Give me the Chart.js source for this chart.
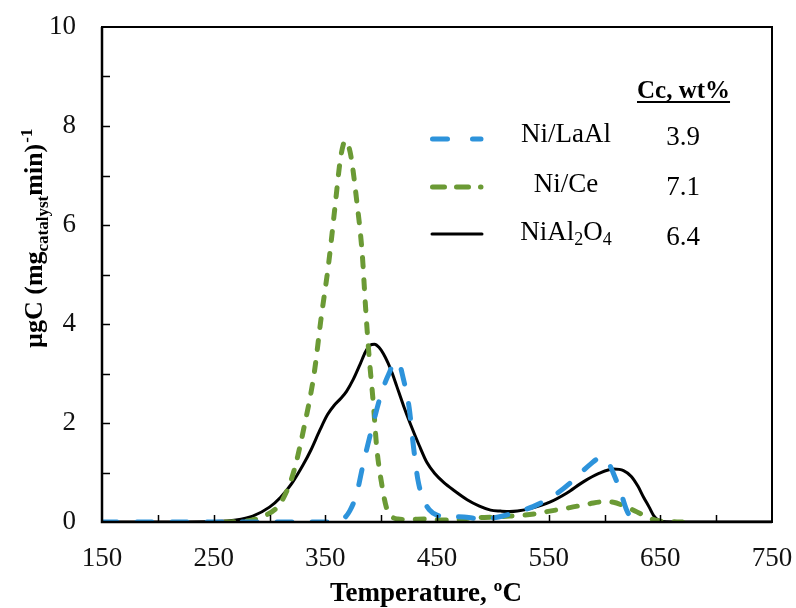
<!DOCTYPE html>
<html>
<head>
<meta charset="utf-8">
<script src="https://cdn.jsdelivr.net/npm/chart.js@4/dist/chart.umd.min.js"></script>
<style>
html,body{margin:0;padding:0;background:#fff;}
canvas{display:block;}
</style>
</head>
<body>
<canvas id="c" width="796" height="608"></canvas>
<script>
// ---- Data ----
const xTicks = [150, 250, 350, 450, 550, 650, 750];
const yTicks = [0, 2, 4, 6, 8, 10];

const seriesNames = ['Ni/LaAl', 'Ni/Ce', 'NiAl2O4'];
const carbonContent = ['3.9', '7.1', '6.4'];
const carbonHeader = 'Cc, wt%';

const tempLaAl = [150, 250, 350, 365, 372, 378, 384, 392, 401, 407, 411, 415, 420, 425, 429, 433, 438, 443, 450, 460, 474, 485, 492, 505, 521, 536, 557, 570, 581, 588, 594, 599, 604, 608, 614, 620, 625, 630];
const valLaAl  = [0, 0, 0, 0.05, 0.23, 0.57, 1.18, 1.92, 2.66, 3.0, 3.2, 3.24, 2.88, 2.32, 1.51, 0.84, 0.45, 0.25, 0.14, 0.11, 0.10, 0.07, 0.06, 0.10, 0.20, 0.31, 0.57, 0.80, 1.04, 1.18, 1.28, 1.30, 1.18, 0.98, 0.64, 0.23, 0.06, 0];

const tempCe = [260, 275, 283, 295, 307, 315, 322, 331, 340, 346, 353, 359, 363, 366, 368, 370, 373, 378, 383, 386, 389, 393, 396, 401, 405, 410, 415, 425, 440, 455, 465, 480, 500, 515, 533, 551, 569, 587, 600, 608, 617, 625, 632, 640, 647, 655, 670];
const valCe  = [0, 0.01, 0.03, 0.12, 0.30, 0.60, 1.04, 1.92, 3.0, 4.08, 5.23, 6.44, 7.25, 7.62, 7.70, 7.65, 7.38, 6.51, 5.43, 4.35, 3.40, 2.39, 1.51, 0.70, 0.27, 0.10, 0.06, 0.05, 0.06, 0.04, 0.04, 0.08, 0.10, 0.12, 0.15, 0.22, 0.29, 0.37, 0.41, 0.40, 0.33, 0.25, 0.17, 0.08, 0.03, 0.01, 0];

const tempNiAl = [150, 200, 250, 270, 285, 300, 310, 320, 330, 337, 345, 352, 358, 364, 369, 375, 381, 386, 390, 394, 398, 402, 406, 410, 414, 420, 426, 434, 441, 448, 456, 465, 477, 488, 498, 507, 515, 522, 535, 551, 566, 581, 595, 608, 617, 624, 630, 635, 640, 644, 648, 652, 670, 750];
const valNiAl  = [0, 0, 0.01, 0.04, 0.12, 0.30, 0.50, 0.78, 1.15, 1.45, 1.85, 2.17, 2.36, 2.50, 2.64, 2.88, 3.18, 3.44, 3.57, 3.59, 3.53, 3.40, 3.22, 3.0, 2.74, 2.35, 1.99, 1.55, 1.20, 0.98, 0.80, 0.64, 0.45, 0.32, 0.24, 0.22, 0.21, 0.22, 0.28, 0.40, 0.58, 0.81, 0.98, 1.07, 1.04, 0.92, 0.72, 0.50, 0.30, 0.13, 0.04, 0.01, 0, 0];

// ---- Styles ----
const BLUE = '#2D93DB';
const GREEN = '#6B9A35';
const SERIF = '"Liberation Serif", "DejaVu Serif", serif';

function pts(xs, ys) { return xs.map((x, i) => ({x: x, y: ys[i]})); }

const datasets = [
  {label: seriesNames[0], data: pts(tempLaAl, valLaAl), borderColor: BLUE, borderWidth: 5,
   borderDash: [15, 20], borderCapStyle: 'round', borderJoinStyle: 'round'},
  {label: seriesNames[1], data: pts(tempCe, valCe), borderColor: GREEN, borderWidth: 5,
   borderDash: [9, 13], borderCapStyle: 'round', borderJoinStyle: 'round'},
  {label: seriesNames[2], data: pts(tempNiAl, valNiAl), borderColor: '#000', borderWidth: 3,
   borderCapStyle: 'round', borderJoinStyle: 'round'}
].map(d => Object.assign(d, {pointRadius: 0, fill: false, tension: 0.4, cubicInterpolationMode: 'monotone', showLine: true}));

const decor = {
  id: 'decor',
  afterDraw(chart) {
    const ctx = chart.ctx, a = chart.chartArea;
    const xs = chart.scales.x, ys = chart.scales.y;
    ctx.save();
    // frame
    ctx.strokeStyle = '#000';
    ctx.lineWidth = 2;
    ctx.strokeRect(a.left, a.top, a.right - a.left, a.bottom - a.top);
    ctx.lineWidth = 2.5;
    ctx.beginPath();
    ctx.moveTo(a.left, a.top); ctx.lineTo(a.left, a.bottom); ctx.lineTo(a.right, a.bottom);
    ctx.stroke();
    // inward minor ticks
    ctx.lineWidth = 1.5;
    ctx.beginPath();
    for (let v = xTicks[0] + 50; v < xTicks[xTicks.length - 1]; v += 50) {
      const px = Math.round(xs.getPixelForValue(v)) + 0.5;
      ctx.moveTo(px, a.bottom); ctx.lineTo(px, a.bottom - 7);
    }
    for (let v = 1; v < 10; v += 1) {
      const py = Math.round(ys.getPixelForValue(v)) + 0.5;
      ctx.moveTo(a.left, py); ctx.lineTo(a.left + 8, py);
    }
    ctx.stroke();

    ctx.fillStyle = '#000';
    ctx.textBaseline = 'alphabetic';
    // x-axis title
    ctx.font = 'bold 27px ' + SERIF;
    ctx.textAlign = 'center';
    ctx.fillText('Temperature, ºC', 426, 601);

    // y-axis title with subscript/superscript
    ctx.save();
    ctx.translate(42, 348);
    ctx.rotate(-Math.PI / 2);
    ctx.textAlign = 'left';
    let x = 0;
    ctx.font = 'bold 26px ' + SERIF;
    ctx.fillText('µgC (mg', x, 0); x += ctx.measureText('µgC (mg').width;
    ctx.font = 'bold 17px ' + SERIF;
    ctx.fillText('catalyst', x, 6); x += ctx.measureText('catalyst').width;
    ctx.font = 'bold 26px ' + SERIF;
    ctx.fillText('min)', x, 0); x += ctx.measureText('min)').width;
    ctx.font = 'bold 17px ' + SERIF;
    ctx.fillText('-1', x + 1, -10);
    ctx.restore();

    // legend
    const rows = [139, 187, 234];
    const baseLines = [142, 192, 240];
    ctx.font = 'bold 25px ' + SERIF;
    ctx.textAlign = 'left';
    ctx.fillText(carbonHeader, 637, 98);
    const hw = ctx.measureText(carbonHeader).width;
    ctx.lineWidth = 1.8;
    ctx.beginPath(); ctx.moveTo(637, 102); ctx.lineTo(637 + hw, 102); ctx.stroke();

    chart.data.datasets.forEach((d, i) => {
      ctx.save();
      ctx.strokeStyle = d.borderColor;
      ctx.lineWidth = d.borderWidth;
      ctx.lineCap = 'round';
      if (d.borderDash) ctx.setLineDash(i === 0 ? [15, 25] : [12, 12]);
      ctx.beginPath();
      ctx.moveTo(i === 2 ? 432 : 432.5, rows[i]); ctx.lineTo(i === 2 ? 482 : 481, rows[i]);
      ctx.stroke();
      ctx.restore();
    });
    ctx.font = '27px ' + SERIF;
    ctx.textAlign = 'center';
    ctx.fillText(seriesNames[0], 566, baseLines[0]);
    ctx.fillText(seriesNames[1], 566, baseLines[1]);
    // NiAl2O4 with subscripts
    const parts = [['NiAl', 27, 0], ['2', 18, 5], ['O', 27, 0], ['4', 18, 5]];
    let tw = 0;
    parts.forEach(p => { ctx.font = p[1] + 'px ' + SERIF; tw += ctx.measureText(p[0]).width; });
    let sx = 566 - tw / 2;
    ctx.textAlign = 'left';
    parts.forEach(p => { ctx.font = p[1] + 'px ' + SERIF; ctx.fillText(p[0], sx, baseLines[2] + p[2]); sx += ctx.measureText(p[0]).width; });
    ctx.font = '27px ' + SERIF;
    ctx.textAlign = 'center';
    ctx.fillText(carbonContent[0], 683, baseLines[0] + 3);
    ctx.fillText(carbonContent[1], 683, baseLines[1] + 3);
    ctx.fillText(carbonContent[2], 683, baseLines[2] + 5);
    ctx.restore();
  }
};

new Chart(document.getElementById('c'), {
  type: 'line',
  data: {datasets: datasets},
  options: {
    responsive: false,
    devicePixelRatio: 1,
    animation: false,
    layout: {padding: {top: 27, right: 24, left: 0, bottom: 0}},
    plugins: {legend: {display: false}, tooltip: {enabled: false}},
    scales: {
      x: {
        type: 'linear', min: xTicks[0], max: xTicks[xTicks.length - 1],
        afterBuildTicks: s => { s.ticks = xTicks.map(v => ({value: v})); },
        afterFit: s => { s.height = 86; s.paddingLeft = 0; s.paddingRight = 0; },
        grid: {display: false, drawTicks: false},
        border: {display: false},
        ticks: {color: '#111', font: {family: SERIF, size: 27}, padding: 21, maxRotation: 0, autoSkip: false}
      },
      y: {
        type: 'linear', min: yTicks[0], max: yTicks[yTicks.length - 1],
        afterBuildTicks: s => { s.ticks = yTicks.map(v => ({value: v})); },
        afterFit: s => { s.width = 102; s.paddingTop = 0; s.paddingBottom = 0; },
        grid: {display: false, drawTicks: false},
        border: {display: false},
        ticks: {color: '#111', font: {family: SERIF, size: 27}, padding: 26, autoSkip: false}
      }
    }
  },
  plugins: [decor]
});
</script>
</body>
</html>
